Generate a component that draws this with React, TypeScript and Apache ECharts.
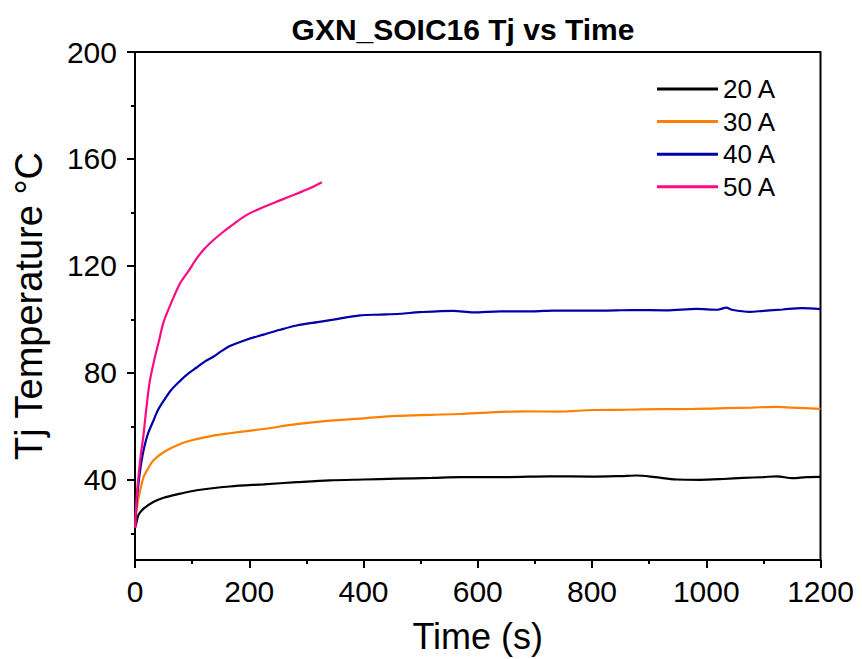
import React, { useEffect, useRef } from "react";
import * as echarts from "echarts";

const TITLE = "GXN_SOIC16 Tj vs Time";
const X_NAME = "Time (s)";
const Y_NAME = "Tj Temperature °C";
const SERIES_NAMES = ["20 A", "30 A", "40 A", "50 A"];
const SERIES_COLORS = ["#000000", "#FF8000", "#0000A8", "#FF0A80"];

const Y_MAJOR_TICKS = [40, 80, 120, 160, 200];
const Y_MINOR_TICKS = [20, 60, 100, 140, 180];

const t20 = [0, 2, 6, 15, 32, 50, 79, 108, 166, 225, 283, 341, 400, 458, 520, 569, 650, 726, 800, 850, 878, 910, 948, 989, 1030, 1065, 1100, 1123, 1152, 1175, 1200];
const v20 = [22, 23.5, 26.8, 29.2, 31.7, 33.3, 34.8, 36.1, 37.5, 38.3, 39.1, 39.8, 40.1, 40.4, 40.7, 41, 41, 41.3, 41.2, 41.4, 41.6, 41, 40.1, 40, 40.3, 40.7, 41, 41.3, 40.6, 41, 41.1];

const t30 = [0, 3, 6, 15, 24, 32, 50, 79, 108, 137, 166, 195, 225, 283, 341, 400, 458, 516, 569, 604, 685, 740, 802, 860, 919, 980, 1035, 1080, 1123, 1150, 1200];
const v30 = [22, 29, 33, 41, 44.6, 47.2, 50.3, 53.4, 55.2, 56.5, 57.4, 58.2, 59, 60.8, 62.1, 63, 63.9, 64.3, 64.6, 65, 65.6, 65.5, 66.1, 66.2, 66.4, 66.5, 66.8, 67, 67.3, 67, 66.5];

const t40 = [0, 3, 6, 10, 15, 22, 32, 40, 50, 63, 79, 93, 108, 122, 137, 152, 166, 195, 225, 254, 283, 320, 347, 394, 430, 464, 499, 557, 592, 639, 697, 732, 814, 870, 930, 983, 1020, 1035, 1045, 1076, 1100, 1134, 1167, 1200];
const v40 = [22, 32, 38.5, 45, 51, 56.8, 62, 66, 69.5, 73.5, 77, 79.7, 82, 84.2, 86, 88.2, 90, 92.4, 94.3, 96.1, 97.7, 99, 99.9, 101.5, 101.8, 102.1, 102.7, 103.2, 102.6, 103, 103, 103.3, 103.3, 103.5, 103.4, 103.9, 103.6, 104.4, 103.6, 102.8, 103.2, 103.7, 104.2, 103.8];

const t50 = [0, 3, 6, 10, 15, 20, 26, 35, 42, 50, 65, 79, 95, 108, 122, 137, 152, 166, 195, 225, 254, 283, 306, 327];
const v50 = [22, 34, 41, 49, 57, 67, 77, 86, 92, 99, 107, 113.5, 118.5, 122.8, 126.5, 129.6, 132.3, 134.6, 139, 142, 144.5, 147, 149, 151.3];

const TIMES = [t20, t30, t40, t50];
const VALUES = [v20, v30, v40, v50];

const FONT = "Liberation Sans, Arial, sans-serif";

export default function App() {
  const ref = useRef<HTMLDivElement>(null);
  useEffect(() => {
    if (!ref.current) return;
    const chart = echarts.init(ref.current, undefined, { renderer: "svg" });
    const series = SERIES_NAMES.map((name, i) => ({
      name,
      type: "line",
      xAxisIndex: 0,
      yAxisIndex: 0,
      data: TIMES[i].map((t, j) => [t, VALUES[i][j]]),
      showSymbol: false,
      symbol: "none",
      smooth: 0.3,
      lineStyle: { color: SERIES_COLORS[i], width: 2.2 },
      itemStyle: { color: SERIES_COLORS[i] },
    }));
    chart.setOption({
      animation: false,
      backgroundColor: "#ffffff",
      title: {
        text: TITLE,
        left: 458,
        top: 9,
        textAlign: "center",
        textStyle: { fontFamily: FONT, fontSize: 30, fontWeight: "bold", color: "#000" },
      },
      legend: {
        left: 652,
        top: 71,
        orient: "vertical",
        icon: "rect",
        itemWidth: 61,
        itemHeight: 3,
        itemGap: 6.6,
        textStyle: { fontFamily: FONT, fontSize: 26, color: "#000" },
        data: SERIES_NAMES,
      },
      grid: {
        left: 135,
        right: 41.5,
        top: 52,
        bottom: 96,
        show: true,
        borderColor: "#000",
        borderWidth: 2,
        backgroundColor: "transparent",
      },
      xAxis: [
        {
          type: "value",
          min: 0,
          max: 1200,
          interval: 200,
          name: X_NAME,
          nameLocation: "middle",
          nameGap: 58,
          nameTextStyle: { fontFamily: FONT, fontSize: 36, color: "#000" },
          axisLine: { show: true, onZero: false, lineStyle: { color: "#000", width: 2 } },
          axisTick: { show: true, length: 8, lineStyle: { color: "#000", width: 2 } },
          minorTick: { show: true, splitNumber: 2, length: 4, lineStyle: { color: "#000", width: 2 } },
          axisLabel: {
            fontFamily: FONT,
            fontSize: 30,
            color: "#000",
            margin: 16,
            formatter: (v: number) => String(v),
          },
          splitLine: { show: false },
          minorSplitLine: { show: false },
        },
      ],
      yAxis: [
        {
          type: "value",
          min: 10,
          max: 200,
          position: "left",
          name: Y_NAME,
          nameLocation: "middle",
          nameGap: 87,
          nameTextStyle: { fontFamily: FONT, fontSize: 38, color: "#000" },
          axisLine: { show: true, onZero: false, lineStyle: { color: "#000", width: 2 } },
          axisTick: { show: true, length: 8, customValues: Y_MAJOR_TICKS, lineStyle: { color: "#000", width: 2 } },
          axisLabel: {
            fontFamily: FONT,
            fontSize: 30,
            color: "#000",
            margin: 18,
            customValues: Y_MAJOR_TICKS,
            formatter: (v: number) => String(v),
          },
          splitLine: { show: false },
        },
        {
          type: "value",
          min: 10,
          max: 200,
          position: "left",
          axisLine: { show: false },
          axisTick: { show: true, length: 4, customValues: Y_MINOR_TICKS, lineStyle: { color: "#000", width: 2 } },
          axisLabel: { show: false },
          splitLine: { show: false },
        },
      ],
      series,
    });
    return () => chart.dispose();
  }, []);
  return (
    <div
      ref={ref}
      style={{ position: "fixed", left: 0, top: 0, width: 862, height: 659, background: "#fff" }}
    />
  );
}
